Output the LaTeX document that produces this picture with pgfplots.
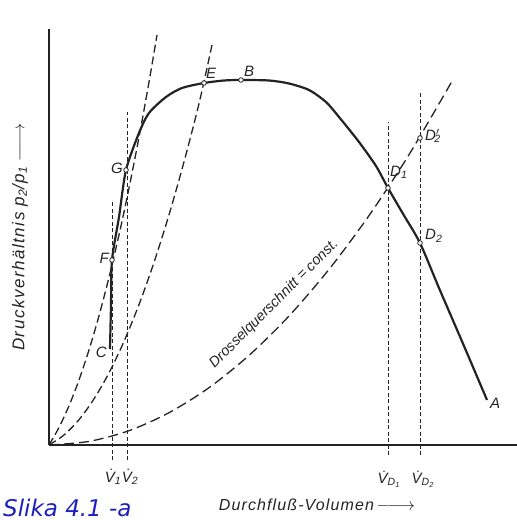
\documentclass[border=0pt]{standalone}
\usepackage{fontspec}
\setmainfont{Liberation Sans}
\newfontfamily\lab[LetterSpace=7]{Liberation Sans}
\newfontfamily\ylab[LetterSpace=9]{Liberation Sans}
\newfontfamily\slika{DejaVu Sans}
\usepackage{pgfplots}
\pgfplotsset{compat=1.18}
\definecolor{ink}{RGB}{35,35,35}
\definecolor{slikablue}{RGB}{30,30,190}
\tikzset{
  parab/.style={ink, line width=1.3pt, dash pattern=on 8pt off 4pt, smooth},
  vert/.style={ink, line width=0.9pt, dash pattern=on 4pt off 2.5pt},
  lbl/.style={font=\lab\itshape\fontsize{15}{17}\selectfont, text=ink, inner sep=0pt},
}
\newcommand{\longarrow}{$\relbar\joinrel\relbar\joinrel\rightarrow$}
\begin{document}
\begin{tikzpicture}
\begin{axis}[
    at={(0,0)}, anchor=origin,
    x=1pt, y=1pt,
    xmin=0, xmax=468, ymin=0, ymax=416,
    axis lines=left,
    axis line style={-, line width=1.4pt, ink},
    ticks=none,
    clip=false,
  ]
  % Drosselkurven
  \addplot[parab] coordinates {
    (0,0) (10,17.5) (20,39.2) (30,65.0) (40,95.0) (50,129.2) (60,167.6)
    (70,210.1) (80,256.9) (90,307.8) (100,362.9) (108,410)
  };
  \addplot[parab] coordinates {
    (0,0) (15,10.0) (30,25.3) (45,46.1) (60,72.1) (75,103.6) (90,140.4)
    (105,182.6) (120,230.2) (135,283.1) (150,341.4) (163,400)
  };
  \addplot[parab, dash pattern=on 10pt off 5pt] coordinates {
    (0,0) (40,3.6) (80,14.3) (120,32.3) (160,57.3) (200,89.6) (240,129.0)
    (280,175.6) (320,229.4) (360,290.3) (403,363.8)
  };
  % senkrechte Linien
  \addplot[vert] coordinates {(63,-15) (63,245)};
  \addplot[vert] coordinates {(78,-15) (78,333)};
  \addplot[vert] coordinates {(339,-10) (339,323)};
  \addplot[vert] coordinates {(371,-10) (371,353)};
  % Kennlinie
  \addplot[ink, line width=2.2pt, smooth, tension=0.45] coordinates {
    (61,96) (62,140) (63,185) (70,228) (77,275) (90,312) (100,332)
    (117,348) (133,357) (155,362) (175,364.5) (192,365) (220,364.5)
    (240,361.5) (260,355) (277,343) (290,328) (310,303) (327,279)
    (339,257) (355,229.5) (371,202) (390,157) (415,99) (438,45)
  };
  % Punkte
  \addplot[only marks, mark=*, mark size=2.3pt, mark options={fill=white, draw=ink, line width=0.8pt}]
    coordinates {(63,185) (77,275) (155,362) (192,365) (339,257) (371,202) (371,307)};
  % Beschriftungen
  \node[lbl, anchor=east] at (axis cs:58,93) {C};
  \node[lbl, anchor=east] at (axis cs:60,187) {F};
  \node[lbl, anchor=east] at (axis cs:74,277) {G};
  \node[lbl, anchor=south west] at (axis cs:157,366) {E};
  \node[lbl, anchor=south west] at (axis cs:195,368) {B};
  \node[lbl, anchor=south west] at (axis cs:341,266) {D\textsubscript{1}};
  \node[lbl, anchor=west] at (axis cs:376,209) {D\textsubscript{2}};
  \node[lbl, anchor=west] at (axis cs:376,309) {D\textsuperscript{$\prime$}\kern-0.35em\textsubscript{2}};
  \node[lbl, anchor=west] at (axis cs:441,42) {A};
  \node[font=\itshape\fontsize{14.5}{16}\selectfont, text=ink, rotate=45] at (axis cs:225,141) {Drosselquerschnitt = const.};
  \node[lbl] at (axis cs:64,-32) {\.{V}\textsubscript{1}};
  \node[lbl] at (axis cs:81,-32) {\.{V}\textsubscript{2}};
  \node[lbl] at (axis cs:340,-34) {\.{V}\textsubscript{D\textsubscript{1}}};
  \node[lbl] at (axis cs:374,-34) {\.{V}\textsubscript{D\textsubscript{2}}};
  \node[font=\lab\itshape\fontsize{16}{18}\selectfont, text=ink, inner sep=0pt] at (axis cs:268,-60) {Durchfluß-Volumen\,\longarrow};
  \node[font=\ylab\itshape\fontsize{17}{19}\selectfont, text=ink, inner sep=0pt, rotate=90] at (axis cs:-29,208) {Druckverhältnis p\textsubscript{2}/p\textsubscript{1}\hspace{5pt}\longarrow};
  \node[font=\slika\itshape\fontsize{23}{26}\selectfont, text=slikablue, anchor=base west, inner sep=0pt] at (axis cs:-46,-71) {Slika 4.1 -a};
\end{axis}
\pgfresetboundingbox
\path[use as bounding box] (-49pt,-75pt) rectangle (468pt,445pt);
\end{tikzpicture}
\end{document}
